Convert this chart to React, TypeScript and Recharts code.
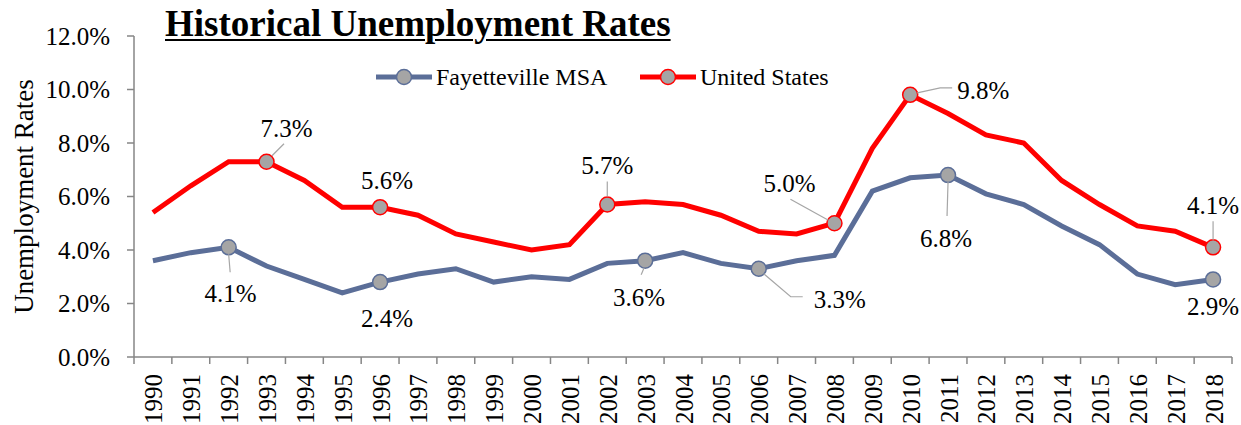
import React from 'react';
import { LineChart, Line, XAxis, YAxis, LabelList } from 'recharts';

const years = ['1990','1991','1992','1993','1994','1995','1996','1997','1998','1999','2000','2001','2002','2003','2004','2005','2006','2007','2008','2009','2010','2011','2012','2013','2014','2015','2016','2017','2018'];
const fayetteville = [3.6,3.9,4.1,3.4,2.9,2.4,2.8,3.1,3.3,2.8,3.0,2.9,3.5,3.6,3.9,3.5,3.3,3.6,3.8,6.2,6.7,6.8,6.1,5.7,4.9,4.2,3.1,2.7,2.9];
const unitedStates = [5.4,6.4,7.3,7.3,6.6,5.6,5.6,5.3,4.6,4.3,4.0,4.2,5.7,5.8,5.7,5.3,4.7,4.6,5.0,7.8,9.8,9.1,8.3,8.0,6.6,5.7,4.9,4.7,4.1];
const yTicks = [0, 2, 4, 6, 8, 10, 12];
const fayLabelled = ['1992','1996','2003','2006','2011','2018'];
const usLabelled = ['1993','1996','2002','2008','2010','2018'];
const fayLabelText: Record<string, string> = { '1996': '2.4%' };

const data = years.map((y, i) => ({ year: y, fay: fayetteville[i], us: unitedStates[i] }));

type Place = { dx: number; dy: number; leader?: number[][] };
const usPlace: Record<string, Place> = {
  '1993': { dx: 20, dy: -33, leader: [[5.5, -6], [17.5, -18]] },
  '1996': { dx: 7, dy: -27 },
  '2002': { dx: 0, dy: -39, leader: [[0, -8], [0, -23]] },
  '2008': { dx: -45, dy: -40, leader: [[-6, -3], [-44, -24]] },
  '2010': { dx: 73, dy: -4, leader: [[7, -2], [30, -7], [42, -7]] },
  '2018': { dx: 0, dy: -42, leader: [[0, -7], [0, -26]] },
};
const fayPlace: Record<string, Place> = {
  '1992': { dx: 2, dy: 46, leader: [[0, 7], [1.5, 25]] },
  '1996': { dx: 7, dy: 36 },
  '2003': { dx: -6, dy: 37, leader: [[-1, 7], [-4, 14]] },
  '2006': { dx: 81, dy: 31, leader: [[5, 5], [32, 28], [44, 28]] },
  '2011': { dx: -2, dy: 63, leader: [[0, 7], [-1, 41]] },
  '2018': { dx: 0, dy: 27 },
};

const FONT = '"Liberation Serif", "Times New Roman", serif';
const RED = '#FF0000';
const BLUE = '#5B6E98';
const MARKER = '#A5A5A5';
const AXIS = '#868686';
const W = 1241;
const H = 425;
const PLOT_LEFT = 134;
const PLOT_RIGHT = 1232;
const PLOT_TOP = 36;
const PLOT_BOTTOM = 357;
const BW = (PLOT_RIGHT - PLOT_LEFT) / years.length;

const makeDot = (labelled: string[], stroke: string) => (props: any) => {
  const { cx, cy, index } = props;
  if (!labelled.includes(years[index])) return <g key={`d${index}`} />;
  return <circle key={`d${index}`} cx={cx} cy={cy} r={7.5} fill={MARKER} stroke={stroke} strokeWidth={1.5} />;
};

const makeLabel = (place: Record<string, Place>, override: Record<string, string>) => (props: any) => {
  const { x, y, value, index } = props;
  const yr = years[index];
  const p = place[yr];
  if (!p) return null;
  const text = override[yr] ?? `${Number(value).toFixed(1)}%`;
  const pts = p.leader ? p.leader.map(([a, b]) => `${x + a},${y + b}`).join(' ') : null;
  return (
    <g key={`l${index}`}>
      {pts && <polyline points={pts} fill="none" stroke="#A6A6A6" strokeWidth={1.2} />}
      <text x={x + p.dx} y={y + p.dy} textAnchor="middle" dominantBaseline="central" fontFamily={FONT} fontSize={25} fill="#000">
        {text}
      </text>
    </g>
  );
};

const XTick = (props: any) => {
  const { x, y, payload, index } = props;
  const last = index === years.length - 1;
  return (
    <g>
      <line x1={x - BW / 2} y1={y} x2={x - BW / 2} y2={y + 7} stroke={AXIS} strokeWidth={1.5} />
      {last && <line x1={x + BW / 2} y1={y} x2={x + BW / 2} y2={y + 7} stroke={AXIS} strokeWidth={1.5} />}
      <text x={x + 1} y={y + 17} transform={`rotate(-90 ${x + 1} ${y + 17})`} textAnchor="end" dominantBaseline="central" fontFamily={FONT} fontSize={25} fill="#000">
        {payload.value}
      </text>
    </g>
  );
};

const LegendItem = ({ color, label, left }: { color: string; label: string; left: number }) => (
  <div style={{ position: 'absolute', left, top: 62, height: 30, display: 'flex', alignItems: 'center' }}>
    <svg width={58} height={30} style={{ display: 'block' }}>
      <line x1={1} y1={15} x2={57} y2={15} stroke={color} strokeWidth={5} />
      <circle cx={29} cy={15} r={7.5} fill={MARKER} stroke={color} strokeWidth={1.5} />
    </svg>
    <span style={{ fontFamily: FONT, fontSize: 24, color: '#000', marginLeft: 3, whiteSpace: 'nowrap' }}>{label}</span>
  </div>
);

export default function App() {
  return (
    <div style={{ position: 'absolute', left: 0, top: 0, width: W, height: H, background: '#fff', overflow: 'hidden' }}>
      <LineChart
        width={W}
        height={H}
        data={data}
        margin={{ top: PLOT_TOP, right: W - PLOT_RIGHT, bottom: 0, left: 0 }}
      >
        <XAxis
          dataKey="year"
          interval={0}
          height={H - PLOT_BOTTOM}
          padding={{ left: BW / 2, right: BW / 2 }}
          tickLine={false}
          tickSize={0}
          tickMargin={0}
          axisLine={{ stroke: AXIS, strokeWidth: 1.5 }}
          tick={<XTick />}
        />
        <YAxis
          width={PLOT_LEFT}
          domain={[0, 12]}
          ticks={yTicks}
          interval={0}
          tickSize={7}
          tickMargin={17}
          axisLine={{ stroke: AXIS, strokeWidth: 1.5 }}
          tickLine={{ stroke: AXIS, strokeWidth: 1.5 }}
          tick={{ fontFamily: FONT, fontSize: 25, fill: '#000' }}
          tickFormatter={(v: number) => `${v.toFixed(1)}%`}
          label={{
            content: (p: any) => {
              const vb = p.viewBox || { x: 0, y: PLOT_TOP, height: PLOT_BOTTOM - PLOT_TOP };
              const cx = vb.x + 24;
              const cy = vb.y + vb.height / 2;
              return (
                <text x={cx} y={cy} transform={`rotate(-90 ${cx} ${cy})`} textAnchor="middle" dominantBaseline="central" fontFamily={FONT} fontSize={27} fill="#000">
                  Unemployment Rates
                </text>
              );
            },
          }}
        />
        <Line
          type="linear"
          dataKey="fay"
          stroke={BLUE}
          strokeWidth={5}
          dot={makeDot(fayLabelled, BLUE)}
          activeDot={false}
          isAnimationActive={false}
        >
          <LabelList dataKey="fay" content={makeLabel(fayPlace, fayLabelText)} />
        </Line>
        <Line
          type="linear"
          dataKey="us"
          stroke={RED}
          strokeWidth={5}
          dot={makeDot(usLabelled, RED)}
          activeDot={false}
          isAnimationActive={false}
        >
          <LabelList dataKey="us" content={makeLabel(usPlace, {})} />
        </Line>
      </LineChart>
      <div
        style={{
          position: 'absolute',
          left: 165,
          top: 4,
          fontFamily: FONT,
          fontWeight: 'bold',
          fontSize: 37,
          lineHeight: '40px',
          textDecoration: 'underline',
          textDecorationThickness: 2,
          textUnderlineOffset: 3,
          color: '#000',
          whiteSpace: 'nowrap',
        }}
      >
        Historical Unemployment Rates
      </div>
      <LegendItem color={BLUE} label="Fayetteville MSA" left={375} />
      <LegendItem color={RED} label="United States" left={639} />
    </div>
  );
}
